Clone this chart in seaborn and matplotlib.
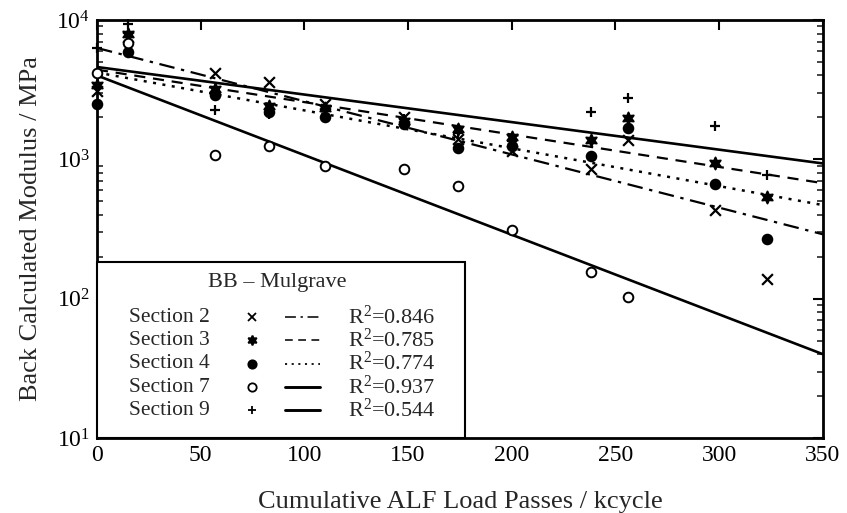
import numpy as np
import pandas as pd
import matplotlib
matplotlib.use("Agg")
import matplotlib.pyplot as plt
import seaborn as sns
from matplotlib.lines import Line2D
from matplotlib.patches import Rectangle
from matplotlib.ticker import LogLocator, FixedLocator, NullFormatter, FuncFormatter

# ---------------- data ----------------
sections = ["Section 2", "Section 3", "Section 4", "Section 7", "Section 9"]
r2_values = ["0.846", "0.785", "0.774", "0.937", "0.544"]

x_s2 = [0, 15, 57, 83, 110, 148, 174, 200, 238, 256, 298, 323]
y_s2 = [3100, 7500, 4200, 3600, 2500, 2000, 1400, 1150, 860, 1370, 430, 138]
x_s3 = [0, 15, 57, 83, 110, 148, 174, 200, 238, 256, 298, 323]
y_s3 = [3400, 7900, 3200, 2400, 2350, 1900, 1650, 1450, 1370, 1970, 935, 533]
x_s4 = [0, 15, 57, 83, 110, 148, 174, 200, 238, 256, 298, 323]
y_s4 = [2500, 5900, 2900, 2200, 2000, 1800, 1200, 1250, 1050, 1670, 670, 270]
x_s7 = [0, 15, 57, 83, 110, 148, 174, 200, 238, 256]
y_s7 = [4200, 6800, 1070, 1240, 890, 860, 640, 310, 156, 103]
x_s9 = [0, 15, 57, 83, 110, 148, 174, 200, 238, 256, 298, 323]
y_s9 = [6300, 9300, 2250, 2100, 2250, 1950, 1550, 1350, 2180, 2750, 1730, 767]

# regression lines (value at start and end of x range)
fit_x = [0, 350]
fit_s2 = [6300, 290]
fit_s3 = [4400, 675]
fit_s4 = [4200, 470]
fit_s7 = [4000, 40]
fit_s9 = [4600, 935]

x_ticks = [0, 50, 100, 150, 200, 250, 300, 350]
y_decades = [1, 2, 3, 4]

# ---------------- styling ----------------
sns.set_theme(style="white")
plt.rcParams["font.family"] = ["Liberation Serif", "DejaVu Serif"]
plt.rcParams["mathtext.fontset"] = "custom"
plt.rcParams["mathtext.rm"] = "Liberation Serif"
plt.rcParams["mathtext.it"] = "Liberation Serif:italic"

star6 = (6, 1, 0)
styles = {
    "Section 2": dict(marker="x", fc="black", ls=(0, (7, 3, 1.5, 3)), lw=1.6),
    "Section 3": dict(marker=star6, fc="black", ls=(0, (5, 3.5)), lw=1.6),
    "Section 4": dict(marker="o", fc="black", ls=(0, (1.2, 2.6)), lw=1.8),
    "Section 7": dict(marker="o", fc="white", ls="-", lw=1.9),
    "Section 9": dict(marker="+", fc="black", ls="-", lw=1.9),
}
xs = [x_s2, x_s3, x_s4, x_s7, x_s9]
ys = [y_s2, y_s3, y_s4, y_s7, y_s9]
fits = [fit_s2, fit_s3, fit_s4, fit_s7, fit_s9]

fig = plt.figure(figsize=(8.47, 5.13), dpi=100)
ax = fig.add_axes([0.1145, 0.146, 0.857, 0.815])
ax.set_yscale("log")

for name, xv, yv, fv in zip(sections, xs, ys, fits):
    st = styles[name]
    pts = pd.DataFrame({"x": xv, "y": yv})
    line = pd.DataFrame({"x": fit_x, "y": fv})
    sns.lineplot(data=line, x="x", y="y", ax=ax, color="black",
                 linestyle=st["ls"], linewidth=st["lw"], zorder=2)
    if st["marker"] in ("x", "+"):
        sns.scatterplot(data=pts, x="x", y="y", ax=ax, marker=st["marker"],
                        color="black", s=60, linewidth=1.6, zorder=3, clip_on=False)
    else:
        sns.scatterplot(data=pts, x="x", y="y", ax=ax, marker=st["marker"],
                        facecolor=st["fc"], edgecolor="black", s=48 if st["marker"] == "o" else 75,
                        linewidth=1.4, zorder=3, clip_on=False)

ax.set_xlim(0, 350)
ax.set_ylim(10, 1e4)
ax.set_xticks(x_ticks)
ax.set_xticklabels([str(t) for t in x_ticks])
ax.yaxis.set_major_locator(FixedLocator([10 ** d for d in y_decades]))
ax.yaxis.set_major_formatter(FuncFormatter(lambda v, p: r"10$^{%d}$" % round(np.log10(v))))
ax.yaxis.set_minor_locator(LogLocator(base=10, subs=np.arange(2, 10)))
ax.yaxis.set_minor_formatter(NullFormatter())

ax.tick_params(axis="both", which="major", direction="in", length=7, width=1.5,
               top=True, right=True, labelsize=17, colors="black", pad=5)
ax.tick_params(axis="y", which="minor", direction="in", length=4, width=1.2,
               left=True, right=True)
for sp in ax.spines.values():
    sp.set_linewidth(2)
    sp.set_color("black")

ax.set_xlabel("Cumulative ALF Load Passes / kcycle", fontsize=19, labelpad=18)
ax.set_ylabel("Back Calculated Modulus / MPa", fontsize=19, labelpad=10)

# ---------------- legend box ----------------
ax.add_patch(Rectangle((0, 0), 0.507, 0.421, transform=ax.transAxes, facecolor="white",
                       edgecolor="black", linewidth=1.5, zorder=5, clip_on=False))
ax.text(0.248, 0.371, "BB – Mulgrave", transform=ax.transAxes, ha="center", va="center",
        fontsize=16, zorder=6)
row_y = [0.289, 0.234, 0.178, 0.122, 0.067]
for name, r2, yy in zip(sections, r2_values, row_y):
    st = styles[name]
    ax.text(0.044, yy, name, transform=ax.transAxes, ha="left", va="center", fontsize=15.5, zorder=6)
    ax.add_line(Line2D([0.2135], [yy], transform=ax.transAxes, marker=st["marker"],
                       markersize=6 if st["marker"] != star6 else 7, markerfacecolor=st["fc"],
                       markeredgecolor="black", markeredgewidth=1.3, color="black",
                       linestyle="none", zorder=6))
    ax.add_line(Line2D([0.259, 0.307], [yy, yy], transform=ax.transAxes, color="black",
                       linestyle=st["ls"], linewidth=st["lw"] * (0.7 if st["ls"] != "-" else 1.1),
                       zorder=6))
    ax.text(0.346, yy, r"R$^{2}$=" + r2, transform=ax.transAxes, ha="left", va="center",
            fontsize=16, zorder=6)

fig.savefig("out.png", dpi=100)
